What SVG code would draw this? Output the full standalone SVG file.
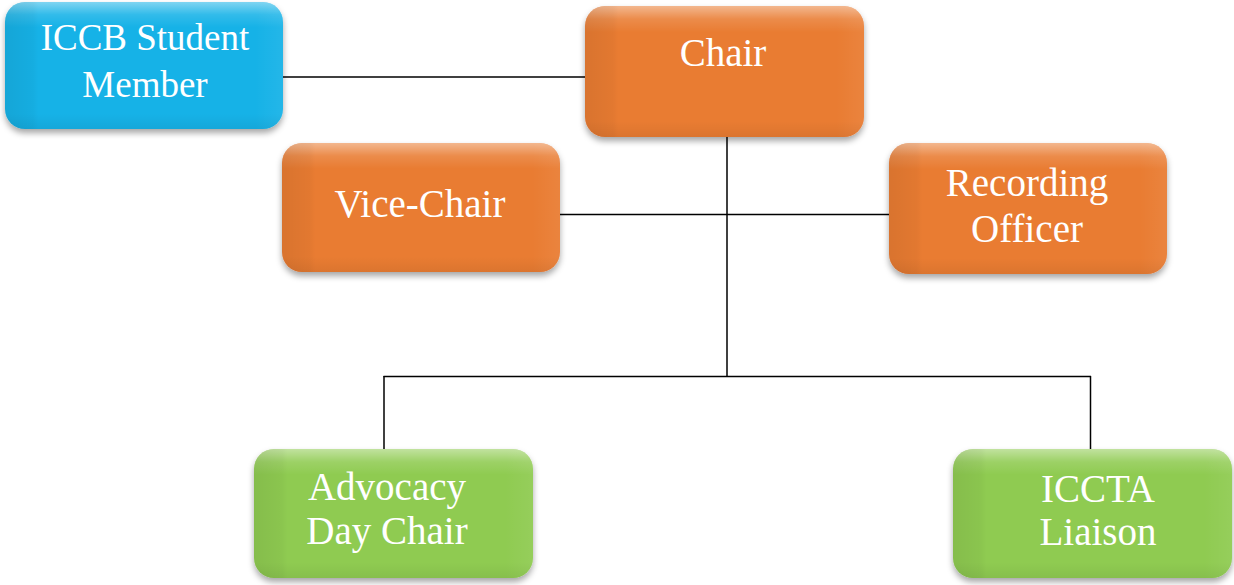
<svg xmlns="http://www.w3.org/2000/svg" width="1234" height="585" viewBox="0 0 1234 585">
<defs>
<style>
.box{stroke:none}
.blue{fill:#19B2E7}
.orange{fill:#E97B32}
.green{fill:#8FCB51}
.hl{fill:url(#gv)}
.sd{fill:url(#gh)}
.lbl{font-family:"Liberation Serif","Times New Roman",serif;font-size:39px;fill:#ffffff;text-anchor:middle}
.conn line{stroke:#000;stroke-width:1.5}
</style>
<linearGradient id="gv" x1="0" y1="0" x2="0" y2="1">
<stop offset="0" stop-color="#fff" stop-opacity="0.45"/>
<stop offset="0.1" stop-color="#fff" stop-opacity="0.12"/>
<stop offset="0.2" stop-color="#fff" stop-opacity="0"/>
<stop offset="0.88" stop-color="#000" stop-opacity="0"/>
<stop offset="1" stop-color="#000" stop-opacity="0.06"/>
</linearGradient>
<linearGradient id="gh" x1="0" y1="0" x2="1" y2="0">
<stop offset="0" stop-color="#000" stop-opacity="0.07"/>
<stop offset="0.1" stop-color="#000" stop-opacity="0.03"/>
<stop offset="0.12" stop-color="#000" stop-opacity="0"/>
<stop offset="0.9" stop-color="#fff" stop-opacity="0"/>
<stop offset="1" stop-color="#fff" stop-opacity="0.06"/>
</linearGradient>
<filter id="sh" x="-10%" y="-10%" width="120%" height="130%">
<feDropShadow dx="0" dy="4" stdDeviation="3" flood-color="#000" flood-opacity="0.35"/>
</filter>
</defs>
<rect width="1234" height="585" fill="#fff"/>
<g class="conn" id="connectors">
<line x1="283" y1="77" x2="585" y2="77"/>
<line x1="727" y1="137" x2="727" y2="376"/>
<line x1="560" y1="214.5" x2="889" y2="214.5"/>
<line x1="383.5" y1="376.5" x2="1091" y2="376.5"/>
<line x1="384" y1="376" x2="384" y2="449"/>
<line x1="1090.5" y1="376" x2="1090.5" y2="449"/>
</g>
<g id="iccb">
<rect class="box blue" x="5" y="2" width="278" height="127" rx="20" filter="url(#sh)"/>
<rect class="hl" x="5" y="2" width="278" height="127" rx="20"/>
<rect class="sd" x="5" y="2" width="278" height="127" rx="20"/>
<text class="lbl" x="145" y="50" style="font-size:37px">ICCB Student</text>
<text class="lbl" x="145" y="97" style="font-size:37px">Member</text>
</g>
<g id="chair">
<rect class="box orange" x="585" y="6" width="279" height="131" rx="20" filter="url(#sh)"/>
<rect class="hl" x="585" y="6" width="279" height="131" rx="20"/>
<rect class="sd" x="585" y="6" width="279" height="131" rx="20"/>
<text class="lbl" x="723" y="66">Chair</text>
</g>
<g id="vicechair">
<rect class="box orange" x="282" y="143" width="278" height="129" rx="20" filter="url(#sh)"/>
<rect class="hl" x="282" y="143" width="278" height="129" rx="20"/>
<rect class="sd" x="282" y="143" width="278" height="129" rx="20"/>
<text class="lbl" x="420" y="217">Vice-Chair</text>
</g>
<g id="recording">
<rect class="box orange" x="889" y="143" width="278" height="131" rx="20" filter="url(#sh)"/>
<rect class="hl" x="889" y="143" width="278" height="131" rx="20"/>
<rect class="sd" x="889" y="143" width="278" height="131" rx="20"/>
<text class="lbl" x="1027" y="196">Recording</text>
<text class="lbl" x="1027" y="242">Officer</text>
</g>
<g id="advocacy">
<rect class="box green" x="254" y="449" width="279" height="129" rx="20" filter="url(#sh)"/>
<rect class="hl" x="254" y="449" width="279" height="129" rx="20"/>
<rect class="sd" x="254" y="449" width="279" height="129" rx="20"/>
<text class="lbl" x="387" y="500">Advocacy</text>
<text class="lbl" x="387" y="544">Day Chair</text>
</g>
<g id="iccta">
<rect class="box green" x="953" y="449" width="279" height="129" rx="20" filter="url(#sh)"/>
<rect class="hl" x="953" y="449" width="279" height="129" rx="20"/>
<rect class="sd" x="953" y="449" width="279" height="129" rx="20"/>
<text class="lbl" x="1098" y="502">ICCTA</text>
<text class="lbl" x="1098" y="545">Liaison</text>
</g>
</svg>
